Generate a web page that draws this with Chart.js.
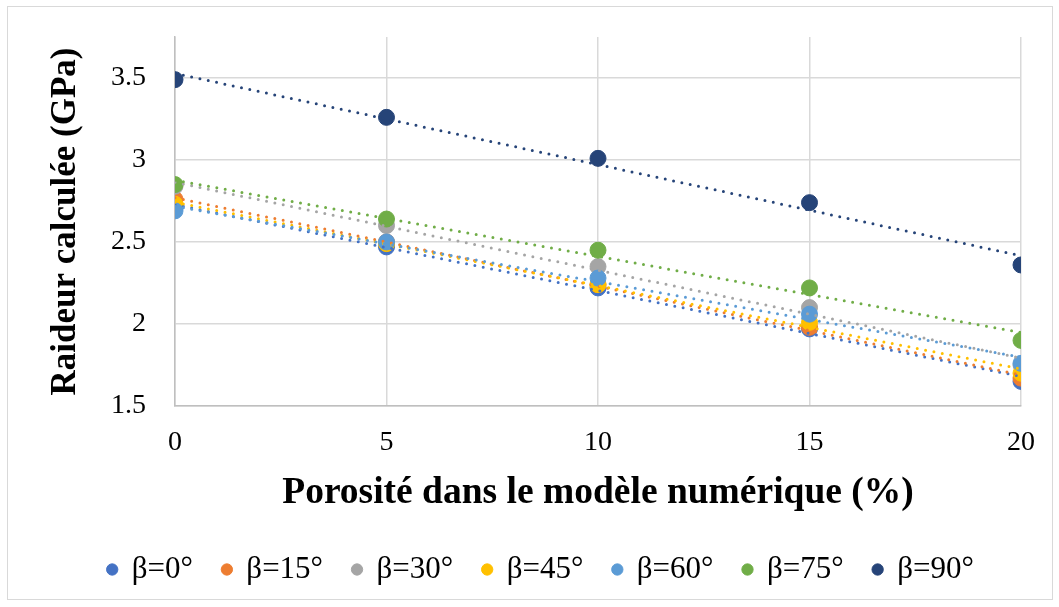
<!DOCTYPE html>
<html>
  <head>
    <meta charset="utf-8">
    <title>Raideur calculée</title>
    <script src="https://cdn.jsdelivr.net/npm/chart.js"></script>
    <style>
    body { margin: 0; background: #fff; }
    #box {
      position: absolute;
      left: 7px; top: 6px;
      width: 1046px; height: 594px;
      border: 1px solid #d9d9d9;
      box-sizing: border-box;
    }
  </style>
  </head>
  <body>
    <div id="box"><canvas id="raideurChart"></canvas></div>
    <script>
    // porosité (%) et raideur (GPa) pour chaque orientation β
    const porosite = [0, 5, 10, 15, 20];
    const beta0  = [2.71, 2.47, 2.22, 1.97, 1.65];
    const beta15 = [2.76, 2.50, 2.24, 1.98, 1.67];
    const beta30 = [2.84, 2.60, 2.35, 2.10, 1.75];
    const beta45 = [2.73, 2.49, 2.24, 2.01, 1.70];
    const beta60 = [2.69, 2.50, 2.28, 2.06, 1.76];
    const beta75 = [2.85, 2.64, 2.45, 2.22, 1.90];
    const beta90 = [3.49, 3.26, 3.01, 2.74, 2.36];
    const yTicks = [1.5, 2, 2.5, 3, 3.5];

    const series = [
      { label: "β=0°",  values: beta0,  color: "#4472C4" },
      { label: "β=15°", values: beta15, color: "#ED7D31" },
      { label: "β=30°", values: beta30, color: "#A5A5A5" },
      { label: "β=45°", values: beta45, color: "#FFC000" },
      { label: "β=60°", values: beta60, color: "#5B9BD5" },
      { label: "β=75°", values: beta75, color: "#70AD47" },
      { label: "β=90°", values: beta90, color: "#264478" }
    ];

    // linear trend (least squares) over the x range
    function trend(xs, ys) {
      const n = xs.length;
      const mx = xs.reduce((a, b) => a + b, 0) / n;
      const my = ys.reduce((a, b) => a + b, 0) / n;
      let sxy = 0, sxx = 0;
      for (let i = 0; i < n; i++) {
        sxy += (xs[i] - mx) * (ys[i] - my);
        sxx += (xs[i] - mx) * (xs[i] - mx);
      }
      const slope = sxy / sxx;
      const x0 = xs[0], x1 = xs[n - 1];
      return [
        { x: x0, y: my + slope * (x0 - mx) },
        { x: x1, y: my + slope * (x1 - mx) }
      ];
    }

    const datasets = [];
    series.forEach((s, i) => {
      datasets.push({
        label: s.label,
        data: porosite.map((x, k) => ({ x: x, y: s.values[k] })),
        backgroundColor: s.color,
        borderColor: s.color,
        pointRadius: 8,
        pointBorderWidth: 1,
        pointStyle: "circle",
        order: 100 - i
      });
    });
    series.forEach((s, i) => {
      datasets.push({
        label: "trend " + s.label,
        isTrend: true,
        data: trend(porosite, s.values),
        showLine: true,
        borderColor: s.color,
        backgroundColor: s.color,
        borderWidth: 3,
        borderDash: [0, 8.5],
        borderCapStyle: "round",
        pointRadius: 0,
        order: 50 - i
      });
    });

    const serif = "'Times New Roman', 'Liberation Serif', serif";
    Chart.defaults.font.family = serif;
    Chart.defaults.color = "#000";

    // nudge the legend row a little to the right
    const legendShift = {
      id: "legendShift",
      afterLayout(chart) {
        chart.legend.left += 8;
        chart.legend.right += 8;
      }
    };

    const ctx = document.getElementById("raideurChart").getContext("2d");
    new Chart(ctx, {
      type: "scatter",
      data: { datasets: datasets },
      plugins: [legendShift],
      options: {
        responsive: true,
        maintainAspectRatio: false,
        animation: false,
        layout: { padding: { left: 37, top: 30, right: 31, bottom: 4 } },
        plugins: {
          tooltip: { enabled: false },
          legend: {
            position: "bottom",
            labels: {
              usePointStyle: true,
              boxWidth: 8,
              boxHeight: 8,
              padding: 30,
              font: { size: 31 },
              filter: (item, data) => !data.datasets[item.datasetIndex].isTrend,
              sort: (a, b) => a.datasetIndex - b.datasetIndex
            }
          }
        },
        scales: {
          x: {
            type: "linear",
            min: 0,
            max: 20,
            ticks: { stepSize: 5, padding: 20, font: { size: 28 } },
            grid: { color: "#d9d9d9", lineWidth: 1.5, drawTicks: false },
            border: { color: "#bfbfbf", width: 1.5 },
            title: {
              display: true,
              text: "Porosité dans le modèle numérique (%)",
              font: { size: 37.5, weight: "bold" },
              padding: { top: 0, bottom: 8 }
            },
            afterFit: (scale) => {
              scale.height = 118;
              scale.paddingLeft = 0;
              scale.paddingRight = 0;
            }
          },
          y: {
            min: 1.5,
            max: 3.75,
            afterBuildTicks: (scale) => {
              scale.ticks = yTicks.map((v) => ({ value: v }));
            },
            ticks: { padding: 29, font: { size: 28 }, callback: (v) => String(v) },
            grid: { color: "#d9d9d9", lineWidth: 1.5, drawTicks: false },
            border: { color: "#bfbfbf", width: 1.5 },
            title: {
              display: true,
              text: "Raideur calculée (GPa)",
              font: { size: 35, weight: "bold" },
              padding: 0
            },
            afterFit: (scale) => {
              scale.width = 130;
              scale.paddingTop = 0;
              scale.paddingBottom = 0;
            }
          }
        }
      }
    });
  </script>
  </body>
</html>
